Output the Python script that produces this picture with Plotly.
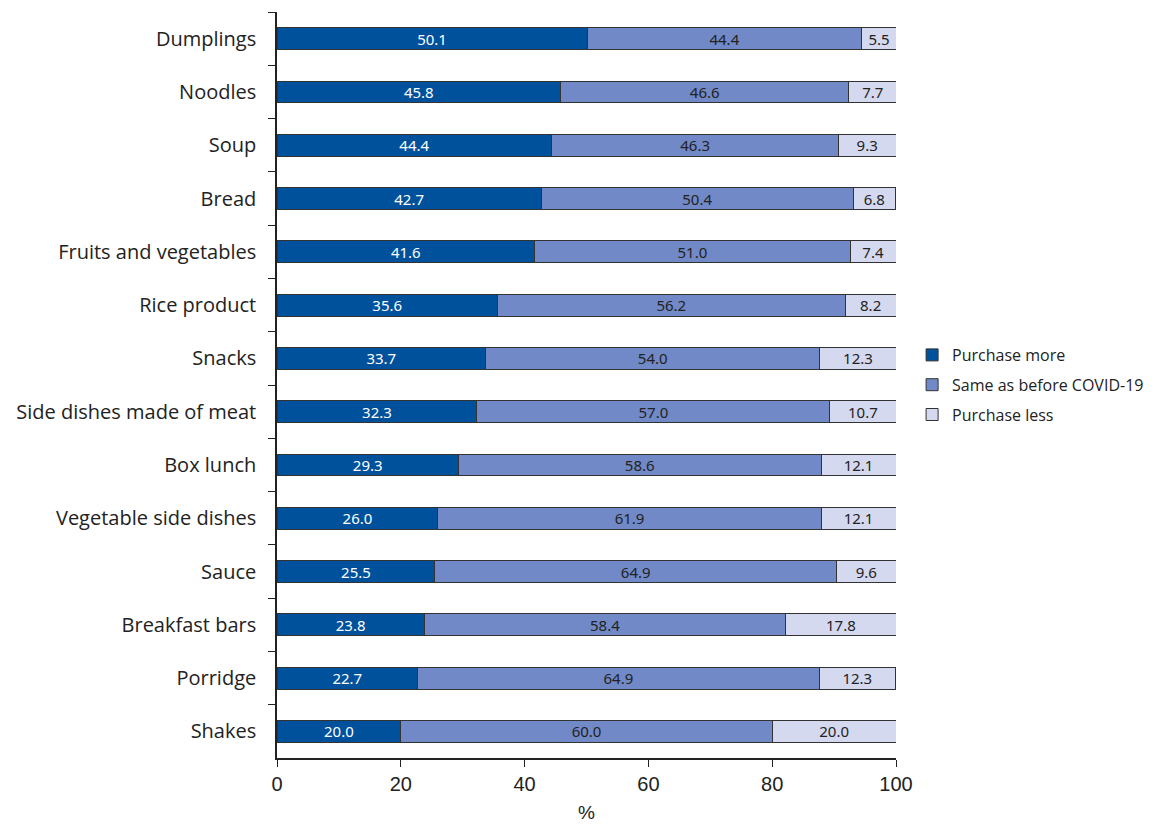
import plotly.graph_objects as go

categories = ["Dumplings", "Noodles", "Soup", "Bread", "Fruits and vegetables", "Rice product",
              "Snacks", "Side dishes made of meat", "Box lunch", "Vegetable side dishes", "Sauce",
              "Breakfast bars", "Porridge", "Shakes"]
purchase_more = [50.1, 45.8, 44.4, 42.7, 41.6, 35.6, 33.7, 32.3, 29.3, 26.0, 25.5, 23.8, 22.7, 20.0]
same_as_before = [44.4, 46.6, 46.3, 50.4, 51.0, 56.2, 54.0, 57.0, 58.6, 61.9, 64.9, 58.4, 64.9, 60.0]
purchase_less = [5.5, 7.7, 9.3, 6.8, 7.4, 8.2, 12.3, 10.7, 12.1, 12.1, 9.6, 17.8, 12.3, 20.0]
x_ticks = [0, 20, 40, 60, 80, 100]

series = [
    ("Purchase more", purchase_more, "#00519c", "white"),
    ("Same as before COVID-19", same_as_before, "#7189c6", "#222222"),
    ("Purchase less", purchase_less, "#d4d9ef", "#222222"),
]

fig = go.Figure()
for name, vals, color, tcolor in series:
    fig.add_trace(go.Bar(
        y=categories, x=vals, name=name, orientation="h", legendgroup=name,
        marker=dict(color=color, line=dict(color="#333333", width=1)),
        text=[f"{v:.1f}" for v in vals], textposition="inside", insidetextanchor="middle",
        textangle=0, constraintext="none",
        textfont=dict(color=tcolor, size=15, family="Noto Sans"),
        width=0.41,
    ))

fig.update_layout(
    barmode="stack",
    width=1169, height=825,
    margin=dict(l=277, r=273, t=12, b=67, autoexpand=False),
    paper_bgcolor="white", plot_bgcolor="white",
    font=dict(family="Open Sans", color="#222222"),
    legend=dict(x=1.026, y=0.50, xanchor="left", yanchor="middle", traceorder="grouped",
                font=dict(size=16, family="Open Sans"), itemwidth=30, tracegroupgap=6),
    uniformtext=dict(mode=False),
)
fig.update_xaxes(range=[0, 100], tickvals=x_ticks, showline=True, linecolor="#222222", linewidth=1.5,
                 ticks="outside", ticklen=7, tickcolor="#222222", showgrid=False, zeroline=False,
                 tickfont=dict(size=20, family="Liberation Sans", color="#222222"),
                 title=dict(text="%", font=dict(size=19, family="Liberation Sans"), standoff=12))
fig.update_yaxes(categoryorder="array", categoryarray=categories, autorange="reversed",
                 showline=True, linecolor="#222222", linewidth=1.5, ticks="outside", ticklen=7,
                 tickcolor="#222222", tickson="boundaries", showgrid=False,
                 tickfont=dict(size=20, family="Open Sans", color="#222222"), ticklabelstandoff=15)

fig.write_html("out.html", config={"displayModeBar": False},
               post_script="document.body.style.margin='0px';")
